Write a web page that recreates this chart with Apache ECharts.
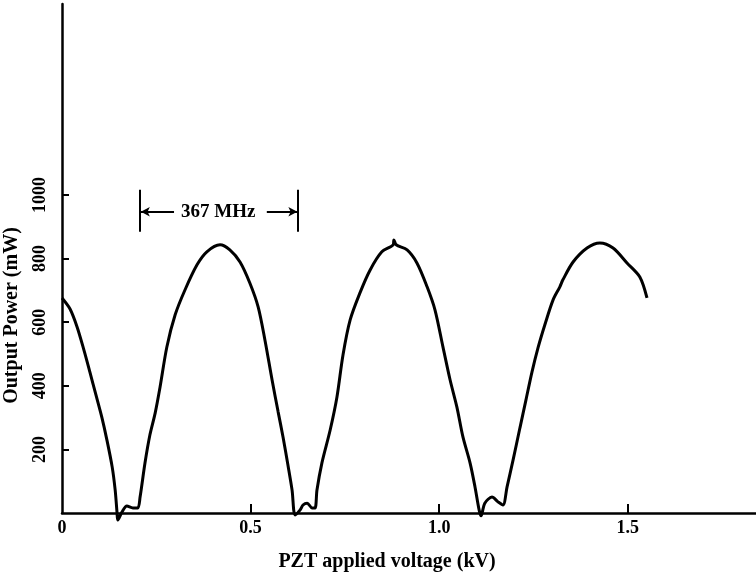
<!DOCTYPE html>
<html><head><meta charset="utf-8">
<script src="https://cdn.jsdelivr.net/npm/echarts@6/dist/echarts.min.js"></script>
<style>html,body{margin:0;padding:0;background:#fff}#c{width:756px;height:581px}</style>
</head><body><div id="c"></div>
<script>
// PZT applied voltage (kV)
const voltage = [0,0.021,0.040,0.058,0.074,0.090,0.106,0.119,0.133,0.141,
  0.146,0.148,0.159,0.172,0.188,0.201,0.207,0.220,0.233,0.247,
  0.260,0.278,0.300,0.326,0.358,0.384,0.419,0.445,0.472,0.498,
  0.520,0.538,0.557,0.573,0.586,0.599,0.610,0.618,0.631,
  0.639,0.650,0.663,0.671,0.676,0.689,0.711,0.729,0.745,0.764,
  0.790,0.817,0.848,0.878,0.880,0.886,0.915,0.941,0.968,0.989,
  1.010,1.029,1.047,1.063,1.082,1.095,1.106,1.111,1.121,1.140,
  1.156,1.169,1.180,1.196,1.214,1.230,1.246,1.262,1.280,
  1.302,1.320,1.328,1.355,1.392,1.426,1.461,1.498,1.532,1.551];
// Output power (mW)
const power = [676,642,585,513,443,371,299,230,145,72,
  0,-22,3,22,16,16,50,157,245,314,
  396,522,623,701,780,821,843,827,789,723,
  648,544,418,318,239,151,72,-6,9,
  25,31,16,16,72,157,261,365,497,607,
  692,764,821,843,858,843,827,786,711,638,
  522,418,333,239,157,82,9,-9,31,50,
  35,25,82,167,267,355,443,519,591,
  670,711,733,789,833,849,833,786,742,676];
const xTickValues = [0.5, 1.0, 1.5];
const xLabelValues = [0, 0.5, 1.0, 1.5];
const yTickValues = [200, 400, 600, 800, 1000];
const spanLabel = '367 MHz';

const FONT = 'Liberation Serif';
const points = voltage.map((v, i) => [v, power[i]]);
const chart = echarts.init(document.getElementById('c'), null, {renderer: 'canvas'});
const txt = {color: '#000', fontFamily: FONT, fontWeight: 'bold'};
chart.setOption({
  animation: false,
  backgroundColor: '#fff',
  grid: {left: 62, right: 0, top: 4, bottom: 68, containLabel: false, outerBoundsMode: 'none'},
  xAxis: {
    type: 'value', min: 0, max: 1.84,
    axisLine: {lineStyle: {color: '#000', width: 2.5}},
    axisTick: {show: true, inside: true, length: 9, lineStyle: {color: '#000', width: 2}, customValues: xTickValues},
    axisLabel: Object.assign({customValues: xLabelValues, fontSize: 18, margin: 6,
      formatter: v => v === 0 ? '0' : v.toFixed(1)}, txt),
    splitLine: {show: false},
    name: 'PZT applied voltage (kV)', nameLocation: 'middle', nameGap: 39,
    nameTextStyle: Object.assign({fontSize: 20, padding: [0, 44, 0, 0]}, txt)
  },
  yAxis: {
    type: 'value', min: 0, max: 1600,
    axisLine: {lineStyle: {color: '#000', width: 2.5}},
    axisTick: {show: true, inside: true, length: 7, lineStyle: {color: '#000', width: 2}, customValues: yTickValues},
    axisLabel: Object.assign({customValues: yTickValues, fontSize: 18, margin: 13, rotate: 90,
      formatter: v => String(v)}, txt),
    splitLine: {show: false},
    name: 'Output Power (mW)', nameLocation: 'middle', nameGap: 40,
    nameTextStyle: Object.assign({fontSize: 20, padding: [0, 114, 0, 0]}, txt)
  },
  series: [{
    type: 'line', data: points, showSymbol: false, clip: false, smooth: 0.3,
    lineStyle: {color: '#000', width: 3}, z: 3,
    markLine: {
      silent: true, symbol: ['none', 'none'], label: {show: false},
      lineStyle: {color: '#000', width: 2, type: 'solid'},
      data: [
        [{coord: [0.207, 1016]}, {coord: [0.207, 884]}],
        [{coord: [0.626, 1016]}, {coord: [0.626, 884]}],
        [{coord: [0.297, 947]}, {coord: [0.209, 947], symbol: 'arrow', symbolSize: [7, 9]}],
        [{coord: [0.543, 947]}, {coord: [0.624, 947], symbol: 'arrow', symbolSize: [7, 9]}]
      ]
    },
    markPoint: {
      silent: true,
      data: [{coord: [0.414, 947], symbol: 'rect', symbolSize: 1, itemStyle: {color: 'rgba(0,0,0,0)'},
        label: Object.assign({show: true, position: 'inside', fontSize: 19, formatter: spanLabel}, txt)}]
    }
  }]
});
</script></body></html>
